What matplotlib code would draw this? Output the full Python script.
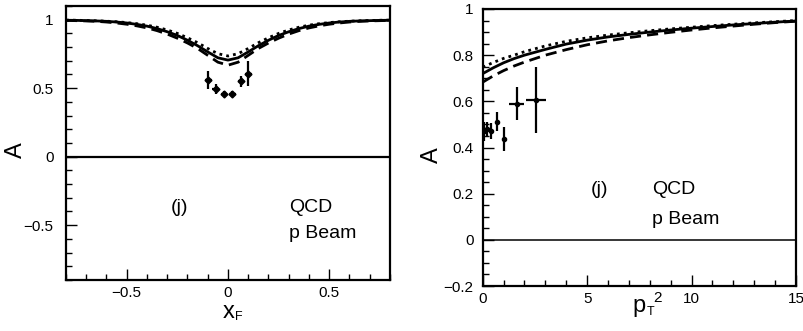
import matplotlib
matplotlib.use("Agg")
import matplotlib.pyplot as plt
from matplotlib.ticker import MultipleLocator

plt.rcParams['font.family'] = ['Liberation Sans', 'DejaVu Sans']

## left panel: A vs xF ##
xf = [-0.8, -0.75, -0.7, -0.65, -0.6, -0.55, -0.5, -0.45, -0.4, -0.35, -0.3, -0.25, -0.2, -0.15, -0.1, -0.05,
      0.0, 0.05, 0.1, 0.15, 0.2, 0.25, 0.3, 0.35, 0.4, 0.45, 0.5, 0.55, 0.6, 0.65, 0.7, 0.75, 0.8]
xf_solid = [0.996, 0.995, 0.993, 0.991, 0.988, 0.983, 0.976, 0.966, 0.953, 0.935, 0.912, 0.885, 0.85, 0.81, 0.765, 0.722,
            0.705, 0.722, 0.765, 0.81, 0.85, 0.885, 0.912, 0.935, 0.953, 0.966, 0.976, 0.983, 0.988, 0.991, 0.993, 0.995, 0.996]
xf_dashed = [0.995, 0.993, 0.991, 0.988, 0.983, 0.976, 0.967, 0.955, 0.94, 0.92, 0.895, 0.865, 0.83, 0.79, 0.74, 0.69,
             0.668, 0.69, 0.74, 0.79, 0.83, 0.865, 0.895, 0.92, 0.94, 0.955, 0.967, 0.976, 0.983, 0.988, 0.991, 0.993, 0.995]
xf_dotted = [0.997, 0.996, 0.994, 0.992, 0.989, 0.985, 0.979, 0.971, 0.96, 0.945, 0.925, 0.9, 0.868, 0.832, 0.79, 0.752,
             0.735, 0.752, 0.79, 0.832, 0.868, 0.9, 0.925, 0.945, 0.96, 0.971, 0.979, 0.985, 0.989, 0.992, 0.994, 0.996, 0.997]

xf_data = [-0.097, -0.061, -0.02, 0.022, 0.064, 0.1]
xf_A = [0.56, 0.497, 0.46, 0.46, 0.552, 0.606]
xf_err = [0.066, 0.036, 0.02, 0.02, 0.04, 0.09]
xf_xerr = [0.017, 0.017, 0.017, 0.017, 0.017, 0.017]

## right panel: A vs pT^2 ##
pt2 = [0, 0.5, 1, 1.5, 2, 3, 4, 5, 6, 7, 8, 9, 10, 11, 12, 13, 14, 15]
pt_solid = [0.72, 0.745, 0.767, 0.785, 0.80, 0.825, 0.848, 0.865, 0.879, 0.89, 0.90, 0.909, 0.917, 0.924, 0.931, 0.937, 0.943, 0.948]
pt_dashed = [0.683, 0.71, 0.733, 0.753, 0.77, 0.80, 0.824, 0.845, 0.862, 0.876, 0.888, 0.899, 0.909, 0.918, 0.926, 0.934, 0.941, 0.947]
pt_dotted = [0.748, 0.768, 0.786, 0.80, 0.815, 0.84, 0.86, 0.875, 0.887, 0.897, 0.906, 0.914, 0.921, 0.928, 0.934, 0.940, 0.945, 0.950]

pt_data = [0.05, 0.2, 0.4, 0.67, 1.02, 1.63, 2.55]
pt_A = [0.47, 0.48, 0.47, 0.512, 0.437, 0.59, 0.607]
pt_err = [0.04, 0.03, 0.035, 0.04, 0.05, 0.07, 0.143]
pt_xerr = [0.05, 0.1, 0.1, 0.05, 0.05, 0.37, 0.5]

W, H = 804, 331
fig = plt.figure(figsize=(W / 100, H / 100), dpi=100)


def style_axes(ax):
    for s in ax.spines.values():
        s.set_linewidth(1.6)
    ax.tick_params(which='both', direction='in', top=False, right=False, labelsize=11)
    ax.tick_params(which='major', length=8, width=1.0)
    ax.tick_params(which='minor', length=4.5, width=1.0)


ax1 = fig.add_axes([66 / W, 1 - 280 / H, 324 / W, 274 / H])
ax1.plot(xf, xf_solid, color='black', lw=2.0)
ax1.plot(xf, xf_dashed, color='black', lw=2.0, dashes=(4, 2.2))
ax1.plot(xf, xf_dotted, color='black', lw=2.0, dashes=(1, 1.5))
ax1.errorbar(xf_data, xf_A, yerr=xf_err, xerr=xf_xerr, fmt='D', ms=3.5, color='black',
             elinewidth=1.6, capsize=0)
ax1.axhline(0, color='black', lw=1.6)
ax1.set_xlim(-0.8, 0.8)
ax1.set_ylim(-0.9, 1.1)
ax1.xaxis.set_minor_locator(MultipleLocator(0.1))
ax1.yaxis.set_minor_locator(MultipleLocator(0.1))
ax1.set_xticks([-0.5, 0, 0.5], ['\u22120.5', '0', '0.5'])
ax1.set_yticks([-0.5, 0, 0.5, 1], ['\u22120.5', '0', '0.5', '1'])
style_axes(ax1)
ax1.tick_params(axis='y', pad=9)
ax1.tick_params(axis='x', pad=4)

ax2 = fig.add_axes([482.7 / W, 1 - 286 / H, 313.3 / W, 277 / H])
ax2.plot(pt2, pt_solid, color='black', lw=2.0)
ax2.plot(pt2, pt_dashed, color='black', lw=2.0, dashes=(4, 2.2))
ax2.plot(pt2, pt_dotted, color='black', lw=2.0, dashes=(1, 1.5))
ax2.errorbar(pt_data, pt_A, yerr=pt_err, xerr=pt_xerr, fmt='o', ms=3.0, color='black',
             elinewidth=1.6, capsize=0)
ax2.axhline(0, color='black', lw=1.1)
ax2.set_xlim(0, 15)
ax2.set_ylim(-0.2, 1.0)
ax2.xaxis.set_minor_locator(MultipleLocator(1))
ax2.yaxis.set_minor_locator(MultipleLocator(0.05))
ax2.set_xticks([0, 5, 10, 15], ['0', '5', '10', '15'])
ax2.set_yticks([-0.2, 0, 0.2, 0.4, 0.6, 0.8, 1.0], ['\u22120.2', '0', '0.2', '0.4', '0.6', '0.8', '1'])
style_axes(ax2)
ax2.tick_params(axis='y', pad=6.5)
ax2.tick_params(axis='x', pad=4)


def ftext(x, y, s, **kw):
    # place text by pixel position in the figure (y measured from top)
    fig.text(x / W, 1 - y / H, s, **kw)


ftext(180, 208, '(j)', fontsize=14, ha='center', va='center')
ftext(289, 208, 'QCD', fontsize=14, ha='left', va='center')
ftext(289, 234, 'p Beam', fontsize=14, ha='left', va='center')
ftext(600, 190, '(j)', fontsize=14, ha='center', va='center')
ftext(652, 190, 'QCD', fontsize=14, ha='left', va='center')
ftext(652, 220, 'p Beam', fontsize=14, ha='left', va='center')

ftext(16, 150, 'A', fontsize=17, rotation=90, ha='center', va='center')
ftext(432, 155, 'A', fontsize=17, rotation=90, ha='center', va='center')

ftext(229, 312, 'x', fontsize=17, ha='center', va='center')
ftext(239, 317, 'F', fontsize=9, ha='center', va='center')
ftext(639, 306, 'p', fontsize=17, ha='center', va='center')
ftext(651, 312, 'T', fontsize=9, ha='center', va='center')
ftext(658, 298, '2', fontsize=11, ha='center', va='center')

fig.savefig('out.png', dpi=100)
